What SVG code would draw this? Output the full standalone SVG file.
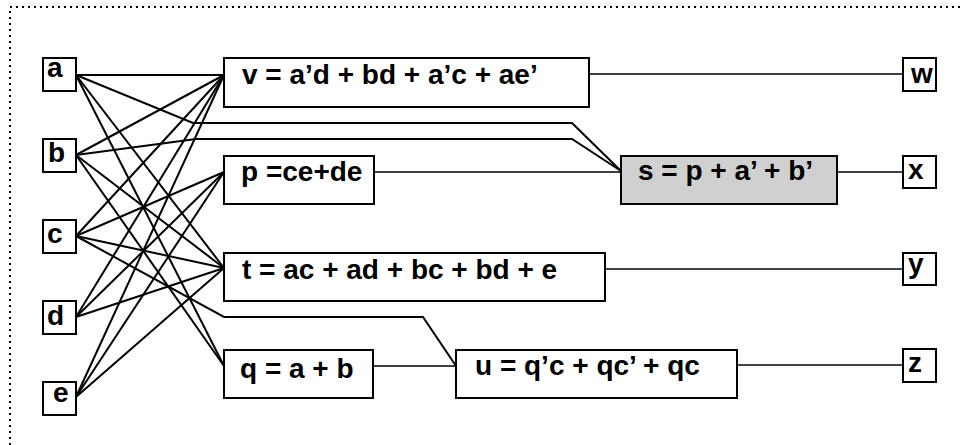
<svg xmlns="http://www.w3.org/2000/svg" width="963" height="445" viewBox="0 0 963 445">
<style>
.bx{fill:#fff;stroke:#000;stroke-width:2}
.gr{fill:#d0d0d0;stroke:#000;stroke-width:2}
.t{font-family:"Liberation Sans",Arial,sans-serif;font-weight:bold;font-size:28px;fill:#000}
.w{stroke:#000;stroke-width:2;fill:none}
.h{stroke:#000;stroke-width:1.6;fill:none}
.frame{stroke:#000;stroke-width:2;stroke-dasharray:2 4;fill:none}
</style>
<rect width="963" height="445" fill="#fff"/>
<path class="frame" d="M10,445 V7 H963"/>
<g id="connectors">
<line class="w" x1="76" y1="75" x2="224" y2="75"/>
<line class="w" x1="76" y1="75" x2="224" y2="268"/>
<line class="w" x1="76" y1="75" x2="224" y2="366"/>
<line class="w" x1="76" y1="155" x2="224" y2="75"/>
<line class="w" x1="76" y1="155" x2="224" y2="268"/>
<line class="w" x1="76" y1="155" x2="224" y2="366"/>
<line class="w" x1="76" y1="236" x2="224" y2="75"/>
<line class="w" x1="76" y1="236" x2="224" y2="172"/>
<line class="w" x1="76" y1="236" x2="224" y2="268"/>
<line class="w" x1="76" y1="317" x2="224" y2="75"/>
<line class="w" x1="76" y1="317" x2="224" y2="172"/>
<line class="w" x1="76" y1="317" x2="224" y2="268"/>
<line class="w" x1="76" y1="397" x2="224" y2="75"/>
<line class="w" x1="76" y1="397" x2="224" y2="172"/>
<line class="w" x1="76" y1="397" x2="224" y2="268"/>
<polyline class="w" points="76,75 193,123 572,123 621,171"/>
<polyline class="w" points="76,155 196,139 572,139 621,171"/>
<polyline class="w" points="76,236 224,317 423,317 456,366"/>
<line class="h" x1="589" y1="74" x2="903" y2="74"/>
<line class="h" x1="374" y1="172" x2="621" y2="172"/>
<line class="h" x1="837" y1="172" x2="903" y2="172"/>
<line class="h" x1="605" y1="269" x2="903" y2="269"/>
<line class="h" x1="373" y1="366" x2="456" y2="366"/>
<line class="h" x1="737" y1="365" x2="903" y2="365"/>
</g>
<g id="a"><rect class="bx" x="43" y="58" width="33" height="33"/><text class="t" x="47" y="77">a</text></g>
<g id="b"><rect class="bx" x="43" y="139" width="33" height="33"/><text class="t" x="48" y="162">b</text></g>
<g id="c"><rect class="bx" x="43" y="220" width="33" height="33"/><text class="t" x="47" y="243">c</text></g>
<g id="d"><rect class="bx" x="43" y="301" width="33" height="33"/><text class="t" x="47" y="325">d</text></g>
<g id="e"><rect class="bx" x="43" y="382" width="33" height="33"/><text class="t" x="53" y="402">e</text></g>
<g id="v"><rect class="bx" x="224" y="58" width="365" height="49"/><text class="t" x="242" y="84">v = a’d + bd + a’c + ae’</text></g>
<g id="p"><rect class="bx" x="224" y="156" width="150" height="48"/><text class="t" x="241" y="181">p =ce+de</text></g>
<g id="s"><rect class="gr" x="621" y="156" width="216" height="48"/><text class="t" x="638" y="180">s = p + a’ + b’</text></g>
<g id="t"><rect class="bx" x="224" y="253" width="381" height="48"/><text class="t" x="242" y="279">t = ac + ad + bc + bd + e</text></g>
<g id="q"><rect class="bx" x="224" y="350" width="149" height="48"/><text class="t" x="240" y="378">q = a + b</text></g>
<g id="u"><rect class="bx" x="456" y="350" width="281" height="48"/><text class="t" x="475" y="375">u = q’c + qc’ + qc</text></g>
<g id="w"><rect class="bx" x="903" y="58" width="33" height="33"/><text class="t" x="911" y="83">w</text></g>
<g id="x"><rect class="bx" x="903" y="156" width="33" height="32"/><text class="t" x="908" y="179">x</text></g>
<g id="y"><rect class="bx" x="903" y="253" width="33" height="32"/><text class="t" x="908" y="273">y</text></g>
<g id="z"><rect class="bx" x="903" y="349" width="33" height="33"/><text class="t" x="908" y="372">z</text></g>
</svg>
